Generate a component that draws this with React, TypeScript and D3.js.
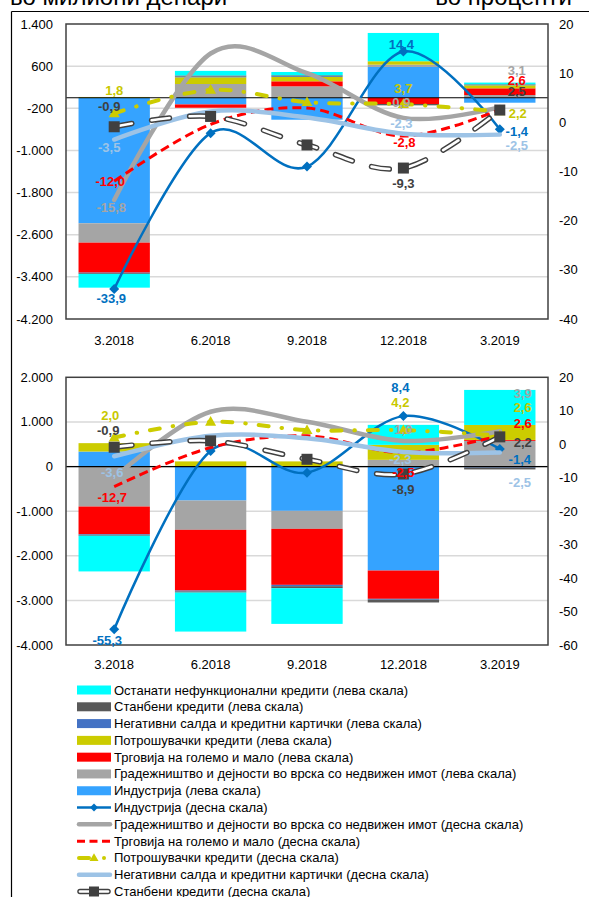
import React from 'react';
import * as d3 from 'd3';

const periods = ['3.2018', '6.2018', '9.2018', '12.2018', '3.2019'];

// Горен панел: квартални промени, милиони денари (лева скала)
const topIndustryAmt = [-2383, -127, -417, 584, -94];
const topConstructionAmt = [-368, 261, 217, 44, 52];
const topTradeAmt = [-569, -63, 95, -119, 127];
const topConsumerAmt = [15, 127, 82, 65, 57];
const topCardsAmt = [-10, 15, 15, 0, 10];
const topHousingAmt = [-15, 20, 17, -25, 10];
const topOtherAmt = [-260, 87, 63, 537, 32];

// Горен панел: промени во проценти (десна скала)
const topIndustryPct = [-33.9, -2.2, -9.0, 14.4, -1.4];
const topConstructionPct = [-15.8, 14.0, 10.0, 0.9, 3.1];
const topTradePct = [-12.0, -0.4, 2.9, -2.8, 2.6];
const topConsumerPct = [1.8, 6.6, 4.1, 3.7, 2.2];
const topCardsPct = [-3.5, 2.2, 1.0, -2.3, -2.5];
const topHousingPct = [-0.9, 1.2, -4.6, -9.3, 2.5];

// Долен панел: милиони денари (лева скала)
const bottomIndustryAmt = [336, -762, -993, -2331, -15];
const bottomConstructionAmt = [-897, -657, -404, 150, 576];
const bottomTradeAmt = [-619, -1361, -1255, -634, 20];
const bottomConsumerAmt = [188, 115, 115, 336, 336];
const bottomCardsAmt = [-15, -20, -30, -20, -10];
const bottomHousingAmt = [-20, -25, -45, -62, -40];
const bottomOtherAmt = [-800, -874, -800, 448, 785];

// Долен панел: проценти (десна скала)
const bottomIndustryPct = [-55.3, -2.0, -8.5, 8.4, -1.4];
const bottomConstructionPct = [-10.0, 9.7, 6.7, 1.0, 3.9];
const bottomTradePct = [-12.7, -1.0, 2.5, -2.5, 2.6];
const bottomConsumerPct = [2.0, 6.7, 4.2, 4.2, 2.6];
const bottomCardsPct = [-3.6, 2.5, 1.8, -2.3, -2.5];
const bottomHousingPct = [-0.9, 1.0, -4.5, -8.9, 2.2];

const topLeftTicks = [1400, 600, -200, -1000, -1800, -2600, -3400, -4200];
const topRightTicks = [20, 10, 0, -10, -20, -30, -40];
const bottomLeftTicks = [2000, 1000, 0, -1000, -2000, -3000, -4000];
const bottomRightTicks = [20, 10, 0, -10, -20, -30, -40, -50, -60];

const legendLabels = [
  'Останати нефункционални кредити (лева скала)',
  'Станбени кредити (лева скала)',
  'Негативни салда и кредитни картички (лева скала)',
  'Потрошувачки кредити (лева скала)',
  'Трговија на големо и мало (лева скала)',
  'Градежништво и дејности во врска со недвижен имот (лева скала)',
  'Индустрија (лева скала)',
  'Индустрија (десна скала)',
  'Градежништво и дејности во врска со недвижен имот (десна скала)',
  'Трговија на големо и мало (десна скала)',
  'Потрошувачки кредити (десна скала)',
  'Негативни салда и кредитни картички (десна скала)',
  'Станбени кредити (десна скала)',
];
const legendKinds = [
  'bar:other', 'bar:housing', 'bar:cards', 'bar:consumer', 'bar:trade', 'bar:construction', 'bar:industry',
  'line:industry', 'line:construction', 'line:trade', 'line:consumer', 'line:cards', 'line:housing',
];

const barKeys = ['industry', 'construction', 'trade', 'consumer', 'cards', 'housing', 'other'];

const barColors: Record<string, string> = {
  industry: '#35A3FF',
  construction: '#A5A5A5',
  trade: '#FF0000',
  consumer: '#CCCC00',
  cards: '#4472C4',
  housing: '#595959',
  other: '#00FFFF',
};
const labelColors: Record<string, string> = {
  industry: '#0070C0',
  construction: '#A5A5A5',
  trade: '#FF0000',
  consumer: '#C8C800',
  cards: '#9DC3E6',
  housing: '#404040',
};

// Поместување на ознаките со вредности во однос на точката (dx, dy)
type Placement = [string, number, number, number];
const topLabelPlacement: Placement[] = [
  ['consumer', 0, 0, -23], ['housing', 0, -5, -20], ['cards', 0, -5, 8], ['trade', 0, -4, 0],
  ['construction', 0, -3, 7], ['industry', 0, -3, 9],
  ['industry', 3, -2, -7.5], ['consumer', 3, 0, -16], ['construction', 3, -2, -15], ['cards', 3, -2, -10],
  ['trade', 3, 1, 6], ['housing', 3, 0, 15],
  ['construction', 4, 17, -36.5], ['trade', 4, 17, -29], ['housing', 4, 17, -19], ['consumer', 4, 18, 1.5],
  ['industry', 4, 17, 2], ['cards', 4, 17, 11],
];
const bottomLabelPlacement: Placement[] = [
  ['consumer', 0, -4, -22.5], ['housing', 0, -6, -17], ['cards', 0, -2, 16], ['trade', 0, -2, 10.6],
  ['industry', 0, -7, 11],
  ['industry', 3, -3, -29], ['consumer', 3, -3, -28], ['construction', 3, 0, -11], ['cards', 3, -3, 8],
  ['trade', 3, 0, 20], ['housing', 3, 0, 15],
  ['construction', 4, 23, -38], ['consumer', 4, 23, -28.5], ['trade', 4, 23, -12], ['housing', 4, 23, 5.5],
  ['industry', 4, 20, 11], ['cards', 4, 20, 30],
];

const FONT = "'Liberation Sans', Arial, sans-serif";
const PLOT_L = 66;
const PLOT_R = 548;

const mkLocale = d3.formatLocale({ decimal: ',', thousands: '.', grouping: [3], currency: ['', ''], minus: '-' });
const fmtTick = mkLocale.format(',');
const fmtPct = mkLocale.format('.1f');

const diamond = (x: number, y: number, r: number) => `M${x},${y - r}L${x + r},${y}L${x},${y + r}L${x - r},${y}Z`;
const triangle = (x: number, y: number, s: number) => `M${x},${y - s * 1.05}L${x + s},${y + s * 0.7}L${x - s},${y + s * 0.7}Z`;

const HOUSING_DASH = '18 20';

function Panel(props: {
  y0: number; y1: number; leftDomain: [number, number]; leftTicks: number[];
  rightDomain: [number, number]; rightTicks: number[];
  bars: Record<string, number[]>; pcts: Record<string, number[]>;
  placement: Placement[]; xLabelY: number;
}) {
  const { y0, y1, leftDomain, leftTicks, rightDomain, rightTicks, bars, pcts, placement, xLabelY } = props;
  const x = d3.scaleBand<string>().domain(periods).range([PLOT_L, PLOT_R]).paddingInner(0.26).paddingOuter(0.13);
  const yL = d3.scaleLinear().domain(leftDomain).range([y1, y0]);
  const yR = d3.scaleLinear().domain(rightDomain).range([y1, y0]);
  const rows = periods.map((p, i) => {
    const r: Record<string, any> = { period: p };
    barKeys.forEach((k) => { r[k] = bars[k][i]; });
    return r;
  });
  const stacked = d3.stack<any>().keys(barKeys).offset(d3.stackOffsetDiverging)(rows);
  const cx = (i: number) => (x(periods[i]) as number) + x.bandwidth() / 2;
  const lineGen = d3.line<number>().x((_, i) => cx(i)).y((v) => yR(v)).curve(d3.curveCardinal.tension(0));

  return (
    <g>
      {leftTicks.filter((t) => t !== leftDomain[0] && t !== leftDomain[1]).map((t) => (
        <line key={'g' + t} x1={PLOT_L} x2={PLOT_R} y1={yL(t)} y2={yL(t)} stroke="#D9D9D9" strokeWidth={1.5} />
      ))}
      {stacked.map((s) => (
        <g key={s.key} fill={barColors[s.key]}>
          {s.map((d, i) => {
            const a = yL(d[0]);
            const b = yL(d[1]);
            return <rect key={i} x={x(periods[i])} width={x.bandwidth()} y={Math.min(a, b)} height={Math.abs(a - b)} />;
          })}
        </g>
      ))}
      <line x1={PLOT_L} x2={PLOT_R} y1={yL(0)} y2={yL(0)} stroke="#000" strokeWidth={1.2} />
      <rect x={PLOT_L} y={y0} width={PLOT_R - PLOT_L} height={y1 - y0} fill="none" stroke="#404040" strokeWidth={1.5} />

      {/* линии, десна скала */}
      <path d={lineGen(pcts.industry) || ''} fill="none" stroke="#0070C0" strokeWidth={2.5} />
      {pcts.industry.map((v, i) => <path key={'di' + i} d={diamond(cx(i), yR(v), 5)} fill="#0070C0" />)}
      <path d={lineGen(pcts.construction) || ''} fill="none" stroke="#A5A5A5" strokeWidth={4.5} strokeLinecap="round" />
      <path d={lineGen(pcts.trade) || ''} fill="none" stroke="#FF0000" strokeWidth={3} strokeDasharray="9 5" />
      <path d={lineGen(pcts.consumer) || ''} fill="none" stroke="#CCCC00" strokeWidth={4} strokeDasharray="10 13 0.5 13" strokeLinecap="round" />
      {pcts.consumer.map((v, i) => <path key={'tr' + i} d={triangle(cx(i), yR(v), 5.5)} fill="#CCCC00" />)}
      <path d={lineGen(pcts.cards) || ''} fill="none" stroke="#9DC3E6" strokeWidth={4.5} strokeLinecap="round" />
      <path d={lineGen(pcts.housing) || ''} fill="none" stroke="#404040" strokeWidth={5.5} strokeDasharray={HOUSING_DASH} strokeLinecap="round" />
      <path d={lineGen(pcts.housing) || ''} fill="none" stroke="#fff" strokeWidth={2.6} strokeDasharray={HOUSING_DASH} strokeLinecap="round" />
      {pcts.housing.map((v, i) => <rect key={'sq' + i} x={cx(i) - 5.5} y={yR(v) - 5.5} width={11} height={11} fill="#404040" />)}

      {placement.map(([k, i, dx, dy]) => (
        <text key={k + i} x={cx(i) + dx} y={yR(pcts[k][i]) + dy} fill={labelColors[k]} fontSize={13} fontWeight="bold"
          textAnchor="middle" dominantBaseline="central" fontFamily={FONT}>
          {fmtPct(pcts[k][i])}
        </text>
      ))}

      {leftTicks.map((t) => (
        <text key={'l' + t} x={53} y={yL(t)} textAnchor="end" dominantBaseline="central" fontSize={13} fontFamily={FONT} fill="#000">
          {fmtTick(t)}
        </text>
      ))}
      {rightTicks.map((t) => (
        <text key={'r' + t} x={559} y={yR(t)} textAnchor="start" dominantBaseline="central" fontSize={13} fontFamily={FONT} fill="#000">
          {fmtTick(t)}
        </text>
      ))}
      {periods.map((p, i) => (
        <text key={p} x={cx(i)} y={xLabelY} textAnchor="middle" dominantBaseline="central" fontSize={13} fontFamily={FONT} fill="#000">
          {p}
        </text>
      ))}
    </g>
  );
}

function LegendKey({ kind, y }: { kind: string; y: number }) {
  const [type, key] = kind.split(':');
  const x0 = 77;
  const x1 = 111;
  const xm = (x0 + x1) / 2;
  if (type === 'bar') return <rect x={x0} y={y - 4.5} width={x1 - x0} height={9} fill={barColors[key]} />;
  if (key === 'industry') return (
    <g><line x1={x0} x2={x1} y1={y} y2={y} stroke="#0070C0" strokeWidth={2.5} /><path d={diamond(xm, y, 4)} fill="#0070C0" /></g>
  );
  if (key === 'construction') return <line x1={x0 + 2} x2={x1 - 1} y1={y} y2={y} stroke="#A5A5A5" strokeWidth={4.5} strokeLinecap="round" />;
  if (key === 'trade') return <line x1={x0} x2={x1} y1={y} y2={y} stroke="#FF0000" strokeWidth={3} strokeDasharray="8 4.5" />;
  if (key === 'consumer') return (
    <g>
      <line x1={x0 + 2} x2={x0 + 12} y1={y} y2={y} stroke="#CCCC00" strokeWidth={4} strokeLinecap="round" />
      <path d={triangle(x0 + 17, y, 4.5)} fill="#CCCC00" />
      <circle cx={x0 + 27} cy={y} r={2} fill="#CCCC00" />
    </g>
  );
  if (key === 'cards') return <line x1={x0 + 2} x2={x1 - 1} y1={y} y2={y} stroke="#9DC3E6" strokeWidth={4.5} strokeLinecap="round" />;
  return (
    <g>
      <line x1={x0 + 3} x2={x1 - 3} y1={y} y2={y} stroke="#404040" strokeWidth={5.5} strokeLinecap="round" />
      <line x1={x0 + 3} x2={x1 - 3} y1={y} y2={y} stroke="#fff" strokeWidth={2.6} strokeLinecap="round" />
      <rect x={xm - 5} y={y - 5} width={10} height={10} fill="#404040" />
    </g>
  );
}

export default function App() {
  const topBars = {
    industry: topIndustryAmt, construction: topConstructionAmt, trade: topTradeAmt, consumer: topConsumerAmt,
    cards: topCardsAmt, housing: topHousingAmt, other: topOtherAmt,
  };
  const topPcts = {
    industry: topIndustryPct, construction: topConstructionPct, trade: topTradePct,
    consumer: topConsumerPct, cards: topCardsPct, housing: topHousingPct,
  };
  const bottomBars = {
    industry: bottomIndustryAmt, construction: bottomConstructionAmt, trade: bottomTradeAmt, consumer: bottomConsumerAmt,
    cards: bottomCardsAmt, housing: bottomHousingAmt, other: bottomOtherAmt,
  };
  const bottomPcts = {
    industry: bottomIndustryPct, construction: bottomConstructionPct, trade: bottomTradePct,
    consumer: bottomConsumerPct, cards: bottomCardsPct, housing: bottomHousingPct,
  };
  const legendY = d3.scaleLinear().domain([0, legendLabels.length - 1]).range([690, 891.5]);

  return (
    <svg width={589} height={897} style={{ position: 'absolute', left: 0, top: 0, display: 'block', background: '#fff' }}
      fontFamily={FONT}>
      <rect width={589} height={897} fill="#fff" />
      <line x1={11.5} x2={589} y1={11.5} y2={11.5} stroke="#000" strokeWidth={1.2} />
      <line x1={11.5} x2={11.5} y1={11.5} y2={897} stroke="#000" strokeWidth={1.2} />
      <text x={10} y={5} fontSize={24} fontFamily={FONT} fill="#000">во милиони денари</text>
      <text x={572} y={5} fontSize={24} fontFamily={FONT} fill="#000" textAnchor="end">во проценти</text>

      <Panel y0={24} y1={319} leftDomain={[-4200, 1400]} leftTicks={topLeftTicks} rightDomain={[-40, 20]}
        rightTicks={topRightTicks} bars={topBars} pcts={topPcts} placement={topLabelPlacement} xLabelY={340} />
      <Panel y0={377.3} y1={645} leftDomain={[-4000, 2000]} leftTicks={bottomLeftTicks} rightDomain={[-60, 20]}
        rightTicks={bottomRightTicks} bars={bottomBars} pcts={bottomPcts} placement={bottomLabelPlacement} xLabelY={664} />

      {legendLabels.map((lab, i) => (
        <g key={lab}>
          <LegendKey kind={legendKinds[i]} y={legendY(i)} />
          <text x={114} y={legendY(i)} dominantBaseline="central" fontSize={13} fontFamily={FONT} fill="#000">{lab}</text>
        </g>
      ))}
    </svg>
  );
}
